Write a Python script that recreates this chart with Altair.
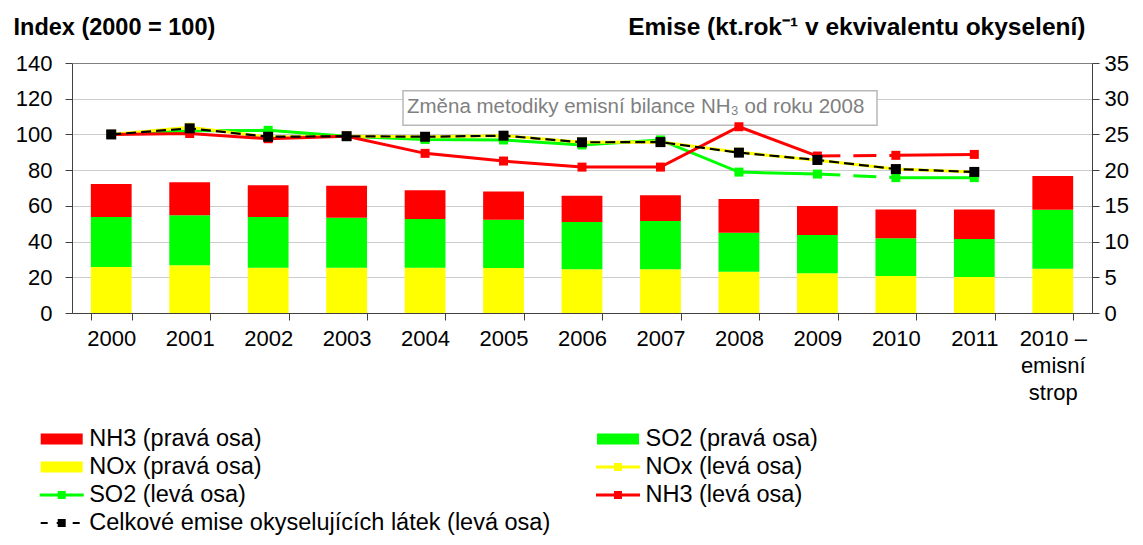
import altair as alt
import pandas as pd

FONT = "Liberation Sans"

# ---------------- data ----------------
years = ["2000", "2001", "2002", "2003", "2004", "2005", "2006", "2007",
         "2008", "2009", "2010", "2011", "2010 – emisní strop"]

# right axis: emissions (kt/yr, acidification equivalent), stacked bars
nox_kt = [6.44, 6.68, 6.35, 6.35, 6.35, 6.30, 6.11, 6.11, 5.79, 5.55, 5.18, 5.04, 6.20]
so2_kt = [7.00, 7.02, 7.09, 7.00, 6.81, 6.77, 6.63, 6.77, 5.46, 5.37, 5.27, 5.32, 8.26]
nh3_kt = [4.62, 4.60, 4.46, 4.45, 4.04, 3.93, 3.66, 3.62, 4.71, 4.06, 4.05, 4.14, 4.72]

# left axis: index (2000 = 100), years 2000-2011
line_years = years[:12]
so2_idx = [100, 102.0, 102.3, 99.0, 97.2, 96.9, 94.1, 96.9, 78.9, 77.8, 75.8, 75.8]
nox_idx = [100, 104.0, 98.5, 99.0, 98.7, 99.3, 95.6, 95.7, 90.0, 85.5, 80.6, 79.0]
nh3_idx = [100, 100.5, 97.6, 99.0, 89.4, 85.1, 81.7, 81.7, 104.3, 87.9, 88.3, 88.8]
total_idx = [100, 103.4, 98.7, 99.0, 98.7, 99.3, 95.6, 95.7, 89.8, 85.7, 80.6, 79.0]

series_names = ["NOx", "SO2", "NH3", "Total"]
series_colors = ["#FFFF00", "#00FF00", "#FF0000", "#000000"]

legend_labels = ["NH3 (pravá osa)", "SO2 (pravá osa)", "NOx (pravá osa)", "NOx (levá osa)",
                 "SO2 (levá osa)", "NH3 (levá osa)",
                 "Celkové emise okyselujících látek (levá osa)"]
legend_series = ["NH3", "SO2", "NOx", "NOx", "SO2", "NH3", "Total"]
legend_kind = ["bar", "bar", "bar", "line", "line", "line", "total"]
legend_col = [0, 1, 0, 1, 0, 1, 0]
legend_row = [0, 0, 1, 1, 2, 2, 3]

annotation = "Změna metodiky emisní bilance NH₃ od roku 2008"
left_title = "Index (2000 = 100)"
right_title = "Emise (kt.rok⁻¹ v ekvivalentu okyselení)"

# ---------------- tables ----------------
bar_rows = []
for i, y in enumerate(years):
    for ordv, (s, vals) in enumerate([("NOx", nox_kt), ("SO2", so2_kt), ("NH3", nh3_kt)]):
        bar_rows.append({"year": y, "series": s, "value": vals[i], "ord": ordv})
bar_df = pd.DataFrame(bar_rows)


def line_table(name, vals, split):
    rows = []
    for i, y in enumerate(line_years):
        if split:
            if i <= 9:
                rows.append({"year": y, "series": name, "value": vals[i], "part": "a"})
            if i >= 10:
                rows.append({"year": y, "series": name, "value": vals[i], "part": "b"})
            if i in (9, 10):
                rows.append({"year": y, "series": name, "value": vals[i], "part": "c"})
        else:
            rows.append({"year": y, "series": name, "value": vals[i], "part": "a"})
    return pd.DataFrame(rows)


so2_df = line_table("SO2", so2_idx, True)
nox_df = line_table("NOx", nox_idx, False)
nh3_df = line_table("NH3", nh3_idx, True)
tot_df = line_table("Total", total_idx, False)

legend_df = pd.DataFrame({"label": legend_labels, "series": legend_series, "kind": legend_kind,
                          "col": legend_col, "row": legend_row})

# ---------------- encodings ----------------
color_scale = alt.Scale(domain=series_names, range=series_colors)
color_enc = alt.Color("series:N", scale=color_scale, legend=None)

x_enc = alt.X(
    "year:N", sort=years,
    scale=alt.Scale(paddingInner=0.48, paddingOuter=0.24),
    axis=alt.Axis(title=None, labelAngle=0, tickBand="extent", grid=False,
                  domainColor="#404040", tickColor="#404040", tickSize=7,
                  labelPadding=8, labelFontSize=22, labelFont=FONT, labelColor="black",
                  labelBaseline="top", labelLineHeight=27, labelOverlap=False,
                  labelExpr="datum.value == '2010 – emisní strop' ? ['2010 –', 'emisní', 'strop'] : datum.value"),
)

left_axis = alt.Axis(
    values=list(range(0, 141, 20)), title=left_title, titleAngle=0, titleAlign="left",
    titleBaseline="alphabetic", titleX=-59, titleY=-29, titleFontSize=23.5,
    titleFontWeight="bold", titleFont=FONT, titleColor="black",
    labelFontSize=22, labelFont=FONT, labelColor="black", labelPadding=13,
    tickSize=7, tickColor="#404040", domainColor="#404040",
    grid=True, gridWidth=1,
    gridColor={"condition": {"test": "datum.value === 140", "value": "#808080"}, "value": "#cccccc"},
)
right_axis = alt.Axis(
    orient="right", values=list(range(0, 36, 5)), title=right_title, titleAngle=0,
    titleAlign="right", titleBaseline="alphabetic", titleX=-7, titleY=-29,
    titleFontSize=24.5, titleFontWeight="bold", titleFont=FONT, titleColor="black",
    labelFontSize=22, labelFont=FONT, labelColor="black", labelPadding=5,
    tickSize=7, tickColor="#404040", domainColor="#404040", grid=False,
)

y_left = alt.Y("value:Q", scale=alt.Scale(domain=[0, 140], nice=False, zero=True), axis=left_axis)
y_right = alt.Y("value:Q", stack="zero", scale=alt.Scale(domain=[0, 35], nice=False), axis=right_axis)

# ---------------- bars ----------------
bars = alt.Chart(bar_df).mark_bar(strokeWidth=0).encode(
    x=x_enc, y=y_right, color=color_enc, order=alt.Order("ord:Q", sort="ascending"),
)

# ---------------- lines ----------------
line_layers = []
for df, split in [(so2_df, True), (nox_df, False), (nh3_df, True)]:
    base = alt.Chart(df)
    solid = base.transform_filter("datum.part != 'c'").mark_line(strokeWidth=3).encode(
        x=x_enc, y=y_left, color=color_enc, detail="part:N")
    line_layers.append(solid)
    if split:
        dashed = base.transform_filter("datum.part == 'c'").mark_line(
            strokeWidth=3, strokeDash=[23, 13]).encode(x=x_enc, y=y_left, color=color_enc)
        line_layers.append(dashed)
    pts = base.transform_filter("datum.part != 'c'").mark_square(size=81, opacity=1).encode(
        x=x_enc, y=y_left, color=color_enc)
    line_layers.append(pts)

tot_line = alt.Chart(tot_df).mark_line(strokeWidth=2.2, strokeDash=[10, 5]).encode(
    x=x_enc, y=y_left, color=color_enc)
tot_pts = alt.Chart(tot_df).mark_square(size=100, opacity=1).encode(
    x=x_enc, y=y_left, color=color_enc)
line_layers += [tot_line, tot_pts]

lines = alt.layer(*line_layers)
main = alt.layer(bars, lines).resolve_scale(y="independent")

# ---------------- annotation ----------------
ann_df = pd.DataFrame({"text": [annotation]})
ann_box = alt.Chart(ann_df).mark_rect(fill="white", stroke="#b8b8b8", strokeWidth=1.5).encode(
    x=alt.value(331), x2=alt.value(805), y=alt.value(27.7), y2=alt.value(62.3))
ann_text = alt.Chart(ann_df).mark_text(align="left", baseline="alphabetic", fontSize=20.5,
                                       font=FONT, color="#7f7f7f").encode(
    x=alt.value(335), y=alt.value(50.3), text="text:N")

# ---------------- legend ----------------
lx = alt.X("col:Q", scale=alt.Scale(domain=[0, 1], range=[-10.3, 546]), axis=None)
ly = alt.Y("row:Q", scale=alt.Scale(domain=[0, 3], range=[376, 460]), axis=None)
lbase = alt.Chart(legend_df)
leg_bar = lbase.transform_filter("datum.kind == 'bar'").mark_rule(
    strokeWidth=11, xOffset=-21, x2Offset=21).encode(x=lx, x2="col", y=ly, color=color_enc)
leg_line = lbase.transform_filter("datum.kind == 'line'").mark_rule(
    strokeWidth=3, xOffset=-22, x2Offset=22).encode(x=lx, x2="col", y=ly, color=color_enc)
leg_dash = lbase.transform_filter("datum.kind == 'total'").mark_rule(
    strokeWidth=2, strokeDash=[7, 9], xOffset=-21, x2Offset=21).encode(
    x=lx, x2="col", y=ly, color=color_enc)
leg_pts = lbase.transform_filter("datum.kind != 'bar'").mark_square(size=64, opacity=1).encode(
    x=lx, y=ly, color=color_enc)
leg_text = lbase.mark_text(align="left", baseline="middle", dx=27.5, fontSize=23.5,
                           font=FONT, color="black").encode(x=lx, y=ly, text="label:N")
legend = alt.layer(leg_bar, leg_line, leg_dash, leg_pts, leg_text)

chart = alt.layer(ann_box, ann_text, main, legend).resolve_scale(
    x="independent", y="independent"
).properties(
    width=1020, height=250,
    padding={"left": 64, "top": 55, "right": 43, "bottom": 224},
    autosize=alt.AutoSizeParams(type="none"),
).configure_view(stroke=None)

chart.save("out.html", embed_options={"renderer": "svg", "actions": False})
